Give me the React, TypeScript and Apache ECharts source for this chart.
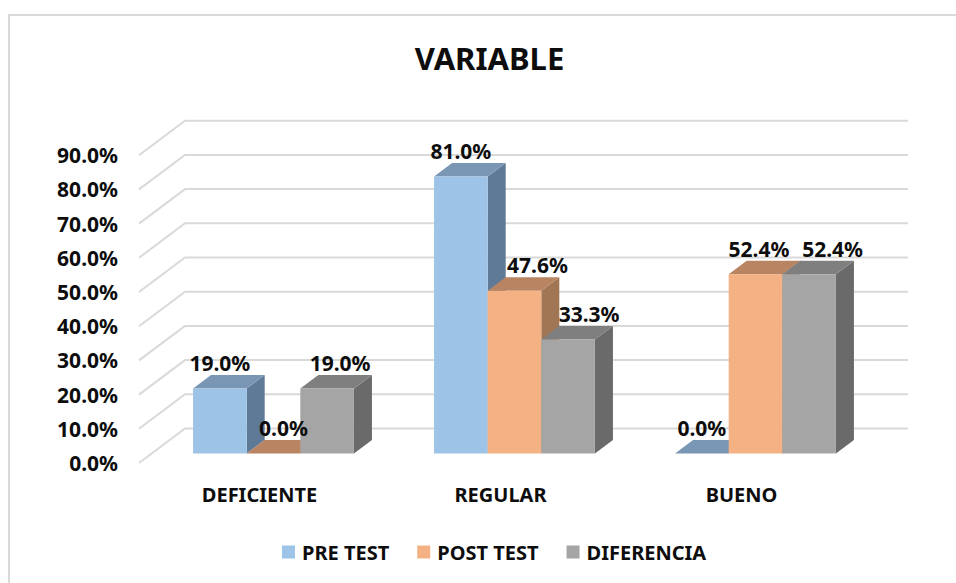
import React, { useEffect, useRef } from "react";
import * as echarts from "echarts";

const TITLE = "VARIABLE";
const categories = ["DEFICIENTE", "REGULAR", "BUENO"];
const preTest = [19.0, 81.0, 0.0];
const postTest = [0.0, 47.6, 52.4];
const diferencia = [19.0, 33.3, 52.4];
const gridTicks = [0, 10, 20, 30, 40, 50, 60, 70, 80, 90];

const FONT = '"Noto Sans", sans-serif';
const INK = "#0d0d0d";
const WALL = "#d9d9d9";

// Oblique projection of the 3D chart, in pixels
const WALL_DX = 46;
const WALL_DY = -34.5;
const BAR_SHIFT_X = 14;
const BAR_SHIFT_Y = -9.5;
const BAR_DEPTH_X = 18;
const BAR_DEPTH_Y = -13.5;
const BAR_BAND_SHARE = 0.2225;
const LABEL_RISE = 25.5;

// Horizontal nudges of the data labels, per series and category
const labelNudge = [
  [0, 0, 0],
  [10, 23, 3.5],
  [13, 21, 23.5],
];

const makeBarRender =
  (seriesIndex: number, front: string, top: string, side: string) =>
  (params: any, api: any) => {
    const cat = api.value(0);
    const val = api.value(1);
    const [cx, yTop] = api.coord([cat, val]);
    const [, yBase] = api.coord([cat, 0]);
    const w = api.size([1, 0])[0] * BAR_BAND_SHARE;
    const x0 = cx + BAR_SHIFT_X + (seriesIndex - 1.5) * w;
    const x1 = x0 + w;
    const yT = yTop + BAR_SHIFT_Y;
    const yB = yBase + BAR_SHIFT_Y;
    const poly = (points: number[][], fill: string) => ({
      type: "polygon",
      shape: { points },
      style: { fill },
    });
    const dx = BAR_DEPTH_X;
    const dy = BAR_DEPTH_Y;
    const children: any[] = [
      poly(
        [
          [x1, yT],
          [x1 + dx, yT + dy],
          [x1 + dx, yB + dy],
          [x1, yB],
        ],
        side,
      ),
      poly(
        [
          [x0, yT],
          [x0 + dx, yT + dy],
          [x1 + dx, yT + dy],
          [x1, yT],
        ],
        top,
      ),
      { type: "rect", shape: { x: x0, y: yT, width: w, height: yB - yT }, style: { fill: front } },
      {
        type: "text",
        z2: 100,
        style: {
          x: (x0 + x1) / 2 + labelNudge[seriesIndex][cat],
          y: yT - LABEL_RISE,
          text: val.toFixed(1) + "%",
          fill: INK,
          font: `bold 21px ${FONT}`,
          align: "center",
          verticalAlign: "middle",
        },
      },
    ];
    return { type: "group", children };
  };

const renderWall = (params: any, api: any) => {
  const v = api.value(1);
  const y = api.coord([0, v])[1];
  const { x, width } = params.coordSys;
  return {
    type: "polyline",
    shape: {
      points: [
        [x, y],
        [x + WALL_DX, y + WALL_DY],
        [x + width + WALL_DX, y + WALL_DY],
      ],
    },
    style: { stroke: WALL, lineWidth: 2, fill: "none" },
  };
};

const toPoints = (values: number[]) => values.map((v, i) => [i, v]);

export default function App() {
  const ref = useRef<HTMLDivElement>(null);
  useEffect(() => {
    if (!ref.current) return;
    const chart = echarts.init(ref.current, undefined, { renderer: "svg" });
    chart.setOption({
      animation: false,
      backgroundColor: "#ffffff",
      title: {
        text: TITLE,
        left: 489.5,
        top: 58,
        padding: 0,
        textAlign: "center",
        textVerticalAlign: "middle",
        textStyle: { fontFamily: FONT, fontWeight: "bold", fontSize: 31, color: INK },
      },
      graphic: [
        {
          type: "rect",
          z: -1,
          shape: { x: 9, y: 15, width: 970, height: 600 },
          style: { fill: "none", stroke: WALL, lineWidth: 2 },
        },
      ],
      grid: { left: 139, top: 155.2, width: 723, height: 307.8 },
      legend: {
        left: 282,
        top: 542,
        padding: 0,
        data: ["PRE TEST", "POST TEST", "DIFERENCIA"],
        icon: "rect",
        itemWidth: 13,
        itemHeight: 13,
        itemGap: 28,
        textStyle: { fontFamily: FONT, fontWeight: "bold", fontSize: 20, color: INK, padding: [0, 0, 0, 2] },
      },
      xAxis: {
        type: "category",
        data: categories,
        axisLine: { show: false },
        axisTick: { show: false },
        splitLine: { show: false },
        axisLabel: { margin: 21, fontFamily: FONT, fontWeight: "bold", fontSize: 20, color: INK },
      },
      yAxis: {
        type: "value",
        min: 0,
        max: 90,
        interval: 10,
        axisLine: { show: false },
        axisTick: { show: false },
        splitLine: { show: false },
        axisLabel: {
          margin: 21,
          fontFamily: FONT,
          fontWeight: "bold",
          fontSize: 21,
          color: INK,
          formatter: (v: number) => v.toFixed(1) + "%",
        },
      },
      series: [
        {
          type: "custom",
          name: "wall",
          silent: true,
          data: gridTicks.map((t) => [0, t]),
          encode: { x: 0, y: 1 },
          renderItem: renderWall,
        },
        {
          type: "custom",
          name: "PRE TEST",
          itemStyle: { color: "#9dc3e6" },
          data: toPoints(preTest),
          encode: { x: 0, y: 1 },
          renderItem: makeBarRender(0, "#9dc3e6", "#7a96b5", "#5f7a96"),
        },
        {
          type: "custom",
          name: "POST TEST",
          itemStyle: { color: "#f4b183" },
          data: toPoints(postTest),
          encode: { x: 0, y: 1 },
          renderItem: makeBarRender(1, "#f4b183", "#b98461", "#a07654"),
        },
        {
          type: "custom",
          name: "DIFERENCIA",
          itemStyle: { color: "#a5a5a5" },
          data: toPoints(diferencia),
          encode: { x: 0, y: 1 },
          renderItem: makeBarRender(2, "#a5a5a5", "#7f7f7f", "#6a6a6a"),
        },
      ],
    });
    return () => chart.dispose();
  }, []);
  return <div ref={ref} style={{ position: "fixed", left: 0, top: 0, width: 956, height: 583 }} />;
}
